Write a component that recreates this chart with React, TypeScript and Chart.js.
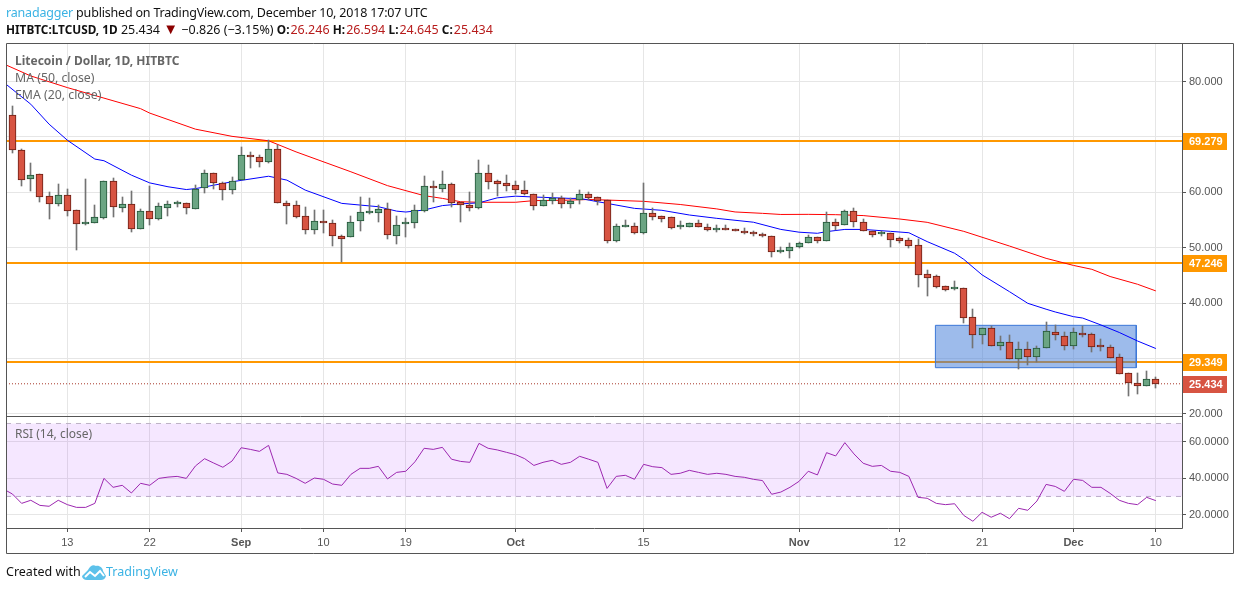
import React, { useEffect, useRef } from "react";
import { Chart, registerables } from "chart.js";

Chart.register(...registerables);

const days = Array.from({ length: 126 }, (_, i) => i);
const opens = [73.89,67.58,62.34,63.24,59.27,57.95,59.45,56.74,54.2,54.4,55.42,61.98,57.1,57.83,53.32,56.56,55.24,57.2,57.9,58.0,56.98,60.72,63.42,61.6,60.35,62.16,66.67,66.3,65.53,67.76,58.0,57.65,55.66,53.13,54.52,54.4,52.05,51.87,54.76,56.3,56.32,56.92,52.05,54.3,54.4,56.56,60.85,60.65,61.44,58.19,57.65,57.2,63.42,61.98,61.6,61.26,60.5,59.63,57.6,58.49,58.9,57.95,58.55,59.63,59.1,58.55,51.27,53.8,54.0,52.7,56.2,55.66,55.5,53.65,53.8,54.4,53.7,53.2,53.35,53.3,52.95,52.75,52.4,52.05,49.2,49.47,50.07,50.79,51.87,51.15,54.58,54.04,56.56,54.58,52.95,52.4,52.6,51.7,51.33,50.43,45.2,44.83,43.03,42.5,42.67,37.43,34.2,35.44,32.3,32.9,29.97,31.65,30.2,31.83,34.7,34.0,32.3,34.5,34.36,32.2,32.0,30.2,27.32,25.52,25.1,26.246];
const highs = [75.58,67.76,65.29,63.24,60.05,61.5,60.6,56.74,62.4,57.7,61.98,62.6,59.2,60.3,56.9,61.1,58.0,58.5,58.4,58.0,61.26,64.0,63.42,61.86,62.8,68.18,67.2,66.73,69.38,68.48,58.43,58.43,57.35,56.8,56.8,55.0,52.3,55.72,59.15,58.97,57.7,58.07,55.72,55.36,57.7,62.94,62.04,63.85,61.6,58.3,60.05,65.83,64.93,62.16,63.12,62.1,62.04,59.63,59.5,59.87,59.33,58.9,60.4,60.05,59.1,58.55,54.2,55.0,54.45,61.68,57.1,55.66,55.5,54.8,54.4,55.0,54.2,54.1,54.1,53.3,53.6,53.1,52.6,52.2,50.2,50.9,51.1,52.3,51.87,56.44,55.18,56.8,57.17,55.18,52.95,53.07,52.6,52.0,51.7,51.5,46.0,45.0,43.15,44.0,42.67,38.9,35.44,35.86,34.06,34.2,32.98,32.98,32.25,36.6,36.0,34.8,35.5,35.9,34.54,33.5,32.44,30.8,27.32,27.4,27.74,26.594];
const lows = [67.15,61.2,60.3,58.3,55.24,57.59,55.78,49.65,54.16,54.4,55.24,55.6,56.5,52.9,53.32,54.16,55.0,55.7,57.3,56.14,56.98,59.93,60.6,58.6,59.7,62.16,64.44,64.63,65.35,58.0,54.22,55.42,52.4,52.4,52.6,50.37,47.48,51.87,53.07,56.08,54.7,51.63,50.73,52.0,53.6,56.5,58.3,60.05,57.4,54.7,56.6,56.9,60.6,59.4,60.2,59.7,59.5,56.8,57.6,57.9,57.2,57.2,57.9,58.7,57.7,50.85,51.1,53.67,52.5,52.5,55.0,54.6,53.3,53.3,53.8,53.8,53.0,52.9,53.2,52.95,52.5,52.2,51.9,48.4,49.1,48.2,50.0,50.79,50.9,51.15,53.2,54.04,53.8,52.95,52.0,52.17,50.2,50.9,50.0,42.9,41.28,42.7,42.25,42.43,36.47,31.95,32.68,32.3,31.5,29.85,28.16,28.8,29.37,31.83,33.3,31.5,31.8,33.9,31.17,31.4,30.15,27.14,23.3,23.65,25.1,24.645];
const closes = [67.58,62.16,63.06,59.09,57.83,59.45,56.56,54.34,54.36,55.48,61.98,57.28,57.83,53.44,56.56,55.24,57.47,57.83,58.0,57.1,60.66,63.42,61.6,60.35,62.1,66.67,66.31,65.53,67.76,58.0,57.6,55.6,53.25,54.76,54.4,52.05,51.63,54.58,56.38,56.4,56.92,52.23,54.04,54.4,56.75,61.14,60.7,61.44,58.13,57.65,57.2,63.42,61.92,61.56,61.2,60.47,59.63,57.6,58.55,58.97,57.95,58.37,59.63,59.03,58.5,51.27,53.86,53.95,52.7,56.2,55.6,55.25,53.6,53.8,54.4,53.8,53.25,53.35,53.2,52.95,52.7,52.4,52.05,49.28,49.4,50.07,50.79,51.87,51.15,54.58,53.86,56.56,54.58,52.95,52.35,52.6,51.45,51.27,50.37,45.13,44.6,42.97,42.43,42.65,37.37,34.2,35.44,32.3,32.9,29.97,31.65,30.2,31.83,34.9,34.2,32.3,34.7,34.3,32.1,32.0,30.15,27.14,25.64,25.1,26.24,25.434];

const maDays = [-1,2,6,10,14,15,20,24,28,31,37,41,45,47,49,51,55,57,60,63,65,69,73,77,79,82,84,87,90,93,97,100,104,109,113,116,118,120,123,125];
const maVals = [83.2,81.0,78.9,77.0,75.1,74.3,71.4,70.1,69.3,67.3,63.7,61.2,59.4,58.9,58.3,58.2,58.2,58.5,58.55,58.7,58.6,58.37,57.8,57.0,56.45,56.2,56.0,56.02,55.96,55.8,55.18,54.58,52.95,50.3,48.08,46.8,46.1,44.8,43.4,42.2];
const emaDays = [-1,2,4,6,9,10,13,15,17,19,20,24,28,30,32,36,40,42,43,45,47,49,51,53,55,57,61,62,65,68,71,74,77,81,84,86,88,89,91,93,96,98,100,103,104,106,109,111,113,114,116,117,119,121,123,125];
const emaVals = [79.9,75.9,72.3,69.4,66.0,65.7,63.1,61.7,61.0,60.5,60.66,61.9,62.9,62.2,60.4,58.0,57.4,56.6,56.44,56.8,57.6,57.9,58.1,59.0,59.3,59.15,58.9,58.9,58.0,57.1,56.75,55.9,55.3,54.6,53.3,52.8,52.6,52.9,53.3,53.3,52.95,52.7,51.1,49.0,47.9,45.1,42.06,39.96,38.9,38.4,37.55,37.3,36.05,34.7,33.16,31.8];
const rsiVals = [31.3,26.2,27.9,25.1,24.6,27.9,25.5,24.0,24.0,26.2,39.9,35.0,36.1,31.9,37.2,36.1,39.9,40.6,41.0,39.9,46.7,50.7,48.3,46.0,49.4,56.7,55.8,54.7,58.0,42.9,42.1,39.9,37.2,40.1,39.4,36.8,36.1,42.1,45.4,45.4,46.5,39.6,43.2,43.8,49.0,56.4,55.8,56.9,50.4,49.2,48.7,59.1,56.4,55.5,54.2,52.9,50.7,47.0,48.7,49.8,47.6,48.7,52.0,50.4,48.7,34.4,41.0,41.6,39.4,47.6,46.3,45.8,42.1,42.7,44.3,43.2,42.1,42.7,42.1,41.0,40.5,39.4,38.7,31.2,32.4,35.0,38.3,43.8,41.8,54.0,52.2,59.5,53.3,48.2,46.5,47.0,43.8,43.2,41.0,29.5,29.0,26.2,25.5,26.0,19.6,16.4,21.3,18.6,20.8,17.8,23.5,22.4,27.5,36.6,35.5,32.8,39.4,38.8,35.0,35.0,31.7,27.9,26.2,25.5,29.5,27.7];
const rsiLeadDay = -1;
const rsiLeadVal = 34.1;

const levelPrices = [69.279, 47.246, 29.349];
const lastPrice = 25.434;
const boxDays = [100.9, 122.86];
const boxPrices = [35.99, 28.34];
const rsiBands = [70, 30];

const priceTicks = [80, 70, 60, 50, 40, 30, 20];
const hiddenPriceTicks = [70, 30];
const rsiTicks = [60, 40, 20];
const xTickDays = [6, 15, 25, 34, 43, 55, 69, 86, 97, 106, 116, 125];
const xTickLabels = ["13", "22", "Sep", "10", "19", "Oct", "15", "Nov", "12", "21", "Dec", "10"];
const monthLabels = ["Sep", "Oct", "Nov", "Dec"];

const X_MIN = -0.71;
const X_MAX = 127.86;
const UP = "#6ba583";
const DOWN = "#d75442";
const UP_B = "#225437";
const DOWN_B = "#6b1f15";
const ORANGE = "#ff9800";
const AXIS = "#555555";

const isDown = (i: number) => closes[i] < opens[i];

const chromePlugin = {
  id: "chrome",
  afterDatasetsUpdate(chart: any) {
    chart.getSortedVisibleDatasetMetas().forEach((meta: any) => {
      if (meta.type !== "bar") return;
      meta.data.forEach((el: any) => {
        el.x = Math.floor(el.x) + 0.5;
        el.y = Math.round(el.y);
        el.base = Math.round(el.base);
      });
    });
  },
  afterDraw(chart: any) {
    const { ctx, chartArea: a, scales } = chart;
    const y = scales.y;
    const split = Math.floor(y.bottom) + 0.5;
    ctx.save();
    ctx.fillStyle = "#ffffff";
    ctx.fillRect(a.right + 1, split + 0.5, 50, 8);

    const tag = (value: number, bg: string) => {
      const cy = Math.round(y.getPixelForValue(value));
      ctx.fillStyle = bg;
      ctx.fillRect(a.right, cy - 8, 45, 17);
      ctx.fillStyle = "#ffffff";
      ctx.font = "bold 11px 'Liberation Sans'";
      ctx.textAlign = "left";
      ctx.textBaseline = "middle";
      ctx.fillText(value.toFixed(3), a.right + 7, cy + 1);
    };
    levelPrices.forEach((v) => tag(v, ORANGE));
    tag(lastPrice, DOWN);

    ctx.strokeStyle = AXIS;
    ctx.lineWidth = 1;
    ctx.beginPath();
    ctx.rect(6.5, 43.5, 1227, 510);
    ctx.moveTo(6.5, split);
    ctx.lineTo(a.right + 0.5, split);
    ctx.moveTo(6.5, a.bottom + 0.5);
    ctx.lineTo(a.right + 0.5, a.bottom + 0.5);
    ctx.moveTo(a.right + 0.5, 43.5);
    ctx.lineTo(a.right + 0.5, a.bottom + 0.5);
    ctx.stroke();
    ctx.restore();
  },
};

const hLine = (value: number, yAxisID: string, extra: any) => ({
  type: "line",
  yAxisID,
  data: [{ x: X_MIN, y: value }, { x: X_MAX, y: value }],
  pointRadius: 0,
  borderWidth: 1,
  ...extra,
});

const fixWidth = (w: number) => (s: any) => { s.width = w; };

export default function App() {
  const ref = useRef<HTMLCanvasElement>(null);
  useEffect(() => {
    const cfg: any = {
      type: "bar",
      data: {
        datasets: [
          ...levelPrices.map((v) => hLine(v, "y", { borderColor: ORANGE, borderWidth: 2, order: 8 })),
          {
            type: "line",
            yAxisID: "y",
            data: [
              { x: boxDays[0], y: boxPrices[0] },
              { x: boxDays[1], y: boxPrices[0] },
            ],
            pointRadius: 0,
            borderWidth: 0,
            backgroundColor: "rgba(60,120,216,0.5)",
            fill: { value: boxPrices[1] },
            order: 7,
          },
          {
            type: "line",
            yAxisID: "y",
            data: [
              { x: boxDays[0], y: boxPrices[0] },
              { x: boxDays[1], y: boxPrices[0] },
              { x: boxDays[1], y: boxPrices[1] },
              { x: boxDays[0], y: boxPrices[1] },
              { x: boxDays[0], y: boxPrices[0] },
            ],
            pointRadius: 0,
            borderWidth: 1,
            borderColor: "#3c78d8",
            order: 7,
          },
          hLine(lastPrice, "y", { borderColor: "#a8392b", borderDash: [1, 2], order: 6 }),
          {
            type: "line",
            yAxisID: "y",
            data: maDays.map((d, i) => ({ x: d, y: maVals[i] })),
            borderColor: "#ff0000",
            borderWidth: 1,
            pointRadius: 0,
            order: 5,
          },
          {
            type: "line",
            yAxisID: "y",
            data: emaDays.map((d, i) => ({ x: d, y: emaVals[i] })),
            borderColor: "#0000ff",
            borderWidth: 1,
            pointRadius: 0,
            order: 4,
          },
          {
            type: "bar",
            yAxisID: "y",
            grouped: false,
            barThickness: 1,
            data: days.map((d) => ({ x: d, y: [lows[d], highs[d]] })),
            backgroundColor: "#737373",
            borderWidth: 0,
            order: 3,
          },
          {
            type: "bar",
            yAxisID: "y",
            grouped: false,
            barThickness: 7,
            minBarLength: 2,
            data: days.map((d) => ({ x: d, y: [opens[d], closes[d]] })),
            backgroundColor: days.map((d) => (isDown(d) ? DOWN : UP)),
            borderColor: days.map((d) => (isDown(d) ? DOWN_B : UP_B)),
            borderWidth: 1,
            borderSkipped: false,
            order: 2,
          },
          hLine(rsiBands[0], "rsi", {
            borderColor: "#bdb2c6",
            borderDash: [5, 5],
            backgroundColor: "rgba(153,21,255,0.1)",
            fill: { value: rsiBands[1] },
            order: 9,
          }),
          hLine(rsiBands[1], "rsi", { borderColor: "#bdb2c6", borderDash: [5, 5], order: 9 }),
          {
            type: "line",
            yAxisID: "rsi",
            data: [{ x: rsiLeadDay, y: rsiLeadVal }, ...days.map((d) => ({ x: d, y: rsiVals[d] }))],
            borderColor: "#9c27b0",
            borderWidth: 1,
            pointRadius: 0,
            order: 1,
          },
        ],
      },
      options: {
        responsive: false,
        animation: false,
        devicePixelRatio: 1,
        layout: { padding: { left: 6, right: 7, top: 44, bottom: 37 } },
        plugins: { legend: { display: false }, title: { display: false }, tooltip: { enabled: false } },
        scales: {
          x: {
            type: "linear",
            min: X_MIN,
            max: X_MAX,
            offset: false,
            border: { display: false },
            grid: { color: "#e6e6e6", offset: false, tickLength: 4, tickColor: AXIS },
            afterBuildTicks: (s: any) => { s.ticks = xTickDays.map((value) => ({ value })); },
            afterFit: (s: any) => { s.height = 25; },
            ticks: {
              autoSkip: false,
              maxRotation: 0,
              padding: 4,
              color: AXIS,
              font: (c: any) => ({
                family: "'Liberation Sans'",
                size: 11,
                weight: monthLabels.includes(xTickLabels[xTickDays.indexOf(c.tick?.value)]) ? "bold" : "normal",
              }),
              callback: (v: any) => xTickLabels[xTickDays.indexOf(v)] ?? "",
            },
          },
          y: {
            type: "linear",
            position: "right",
            stack: "panes",
            stackWeight: 372,
            min: 19.62,
            max: 86.77,
            border: { display: false },
            grid: { color: "#e6e6e6", tickLength: 4, tickColor: AXIS },
            afterBuildTicks: (s: any) => { s.ticks = priceTicks.map((value) => ({ value })); },
            afterFit: fixWidth(51),
            ticks: {
              autoSkip: false,
              padding: 3,
              color: AXIS,
              font: { family: "'Liberation Sans'", size: 11 },
              callback: (v: any) => (hiddenPriceTicks.includes(v) ? "" : Number(v).toFixed(3)),
            },
          },
          rsi: {
            type: "linear",
            axis: "y",
            position: "right",
            stack: "panes",
            stackWeight: 112,
            min: 12.7,
            max: 74.1,
            border: { display: false },
            grid: { color: "#e6e6e6", tickLength: 4, tickColor: AXIS },
            afterBuildTicks: (s: any) => { s.ticks = rsiTicks.map((value) => ({ value })); },
            afterFit: fixWidth(51),
            ticks: {
              autoSkip: false,
              padding: 3,
              color: AXIS,
              font: { family: "'Liberation Sans'", size: 11 },
              callback: (v: any) => Number(v).toFixed(4),
            },
          },
        },
      },
      plugins: [chromePlugin],
    };
    const chart = new Chart(ref.current as HTMLCanvasElement, cfg);
    return () => chart.destroy();
  }, []);

  const font = "'Noto Sans', sans-serif";
  const txt = (left: number, top: number, style: any = {}): any => ({
    position: "absolute",
    left,
    top,
    fontFamily: font,
    fontSize: 12.5,
    lineHeight: "18px",
    whiteSpace: "nowrap",
    ...style,
  });
  const red = { color: "#b71c1c", marginLeft: 1 };
  const strong = { fontSize: 11.8 };
  return (
    <div style={{ position: "absolute", left: 0, top: 0, width: 1240, height: 590, background: "#fff", overflow: "hidden" }}>
      <canvas ref={ref} width={1240} height={590} style={{ position: "absolute", left: 0, top: 0, width: 1240, height: 590 }} />
      <div style={txt(6, 4, { color: "#111", letterSpacing: -0.19 })}>
        <span style={{ color: "#3bb3e4" }}>ranadagger</span> published on TradingView.com, December 10, 2018 17:07 UTC
      </div>
      <div style={txt(6, 20, { color: "#111" })}>
        <b style={strong}>HITBTC:LTCUSD, 1D</b> 25.434 <span style={{ color: "#8b0000", fontSize: 15, lineHeight: "14px" }}>▼</span> −0.826 (−3.15%) <b style={strong}>O:</b><span style={red}>26.246</span> <b style={strong}>H:</b><span style={red}>26.594</span> <b style={strong}>L:</b><span style={red}>24.645</span> <b style={strong}>C:</b><span style={red}>25.434</span>
      </div>
      <div style={txt(15, 52, { color: "#666", fontWeight: 700, fontSize: 12 })}>Litecoin / Dollar, 1D, HITBTC</div>
      <div style={txt(15, 69, { color: "#666", fontSize: 12.3 })}>MA (50, close)</div>
      <div style={txt(15, 86, { color: "#666", fontSize: 12.3 })}>EMA (20, close)</div>
      <div style={txt(15, 425, { color: "#666", fontSize: 12 })}>RSI (14, close)</div>
      <div style={txt(6, 563, { color: "#111" })}>Created with</div>
      <svg style={{ position: "absolute", left: 82, top: 565 }} width="24" height="15" viewBox="0 0 24 15">
        <path d="M0 11 L6 5 C8 1 11 -1 14 1 C17 0 21 3 21 6 L24 11 C23 14 21 15 19 15 L5 15 C2 15 0 13 0 11 Z" fill="#5cc1ea" />
        <path d="M3 12 L8 7 L13 11 L18 6 L22 11" fill="none" stroke="#fff" strokeWidth="2" />
      </svg>
      <div style={txt(106, 563, { color: "#3bb3e4" })}>TradingView</div>
    </div>
  );
}
